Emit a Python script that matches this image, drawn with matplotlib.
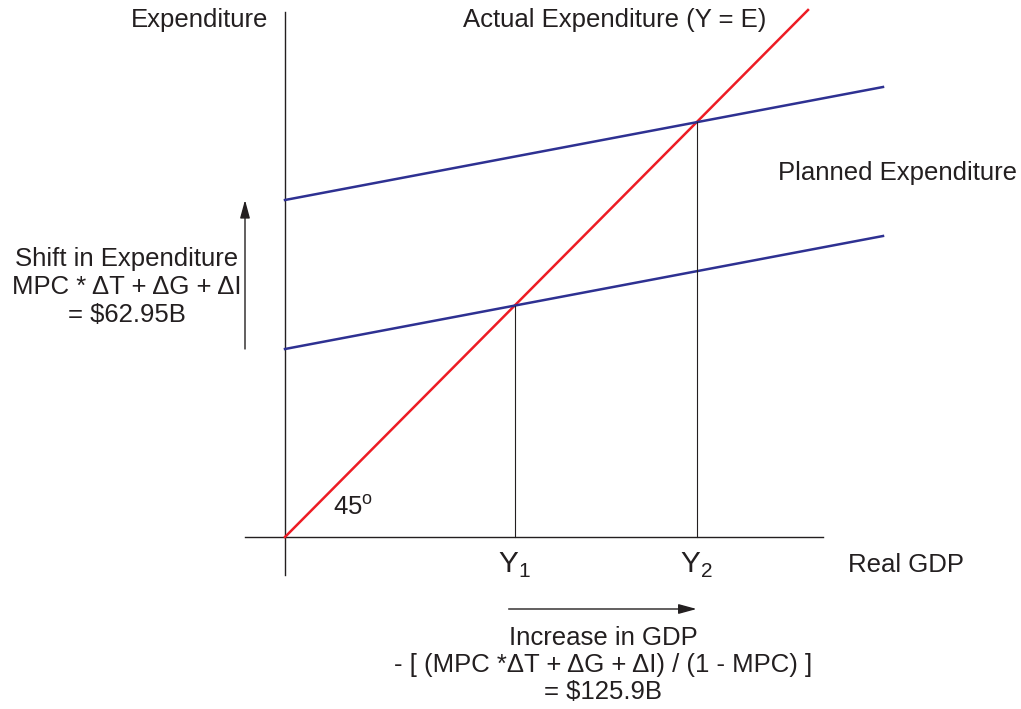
import matplotlib
matplotlib.use("Agg")
import matplotlib.pyplot as plt

plt.rcParams['font.family'] = ['Liberation Sans', 'DejaVu Sans']

# Data (chart units: origin at the axes corner)
actual_x = [0, 523]
actual_y = [0, 527]
planned_x = [0, 598]
planned1_y = [188, 301]
planned2_y = [337, 450]
labels = {"y_axis": "Expenditure", "x_axis": "Real GDP",
          "actual": "Actual Expenditure (Y = E)", "planned": "Planned Expenditure"}
shift_text = ["Shift in Expenditure", "MPC * \u0394T + \u0394G + \u0394I", "= $62.95B"]
increase_text = ["Increase in GDP", "- [ (MPC *\u0394T + \u0394G + \u0394I) / (1 - MPC) ]", "= $125.9B"]

slope_a = (actual_y[1] - actual_y[0]) / (actual_x[1] - actual_x[0])
slope_p = (planned1_y[1] - planned1_y[0]) / (planned_x[1] - planned_x[0])
Y1 = planned1_y[0] / (slope_a - slope_p)
Y2 = planned2_y[0] / (slope_a - slope_p)

fig = plt.figure(figsize=(10.21, 7.09), dpi=100)
ax = fig.add_axes([0, 0, 1, 1])
ax.set_xlim(-285, 1021 - 285)
ax.set_ylim(-(709 - 537), 537)
ax.axis('off')

axc = '#231f20'
ax.plot([0, 0], [-38, 525], color=axc, lw=1.0)
ax.plot([-40, 538], [0, 0], color=axc, lw=1.0)

ax.plot(actual_x, actual_y, color='#ed1c24', lw=1.8)
ax.plot(planned_x, planned1_y, color='#2e3192', lw=1.8)
ax.plot(planned_x, planned2_y, color='#2e3192', lw=1.8)

ax.plot([Y1, Y1], [0, Y1 * slope_a], color=axc, lw=0.8)
ax.plot([Y2, Y2], [0, Y2 * slope_a], color=axc, lw=0.8)

arrow_kw = dict(arrowstyle='-|>,head_length=1.1,head_width=0.3', color='#231f20', lw=1.0,
                shrinkA=0, shrinkB=0)
ax.annotate('', xy=(-40, planned2_y[0]), xytext=(-40, planned1_y[0]), arrowprops=arrow_kw)
ax.annotate('', xy=(Y2, -72), xytext=(Y1 - 6, -72), arrowprops=arrow_kw)

fs = 18.5
tc = '#231f20'
ax.text(-17, 517, labels["y_axis"], ha='right', va='center', fontsize=fs, color=tc)
ax.text(330, 517, labels["actual"], ha='center', va='center', fontsize=fs, color=tc)
ax.text(493, 364, labels["planned"], ha='left', va='center', fontsize=fs, color=tc)
ax.text(563, -28, labels["x_axis"], ha='left', va='center', fontsize=fs, color=tc)
ax.text(-158, 250, "\n".join(shift_text), ha='center', va='center', fontsize=fs, color=tc,
        linespacing=1.22)
ax.text(318, -128, "\n".join(increase_text), ha='center', va='center', fontsize=fs, color=tc,
        linespacing=1.14)
ax.text(48, 30, "45$^{\\mathregular{o}}$", ha='left', va='center', fontsize=fs, color=tc)
ax.text(Y1, -28, "Y$_{\\mathregular{1}}$", ha='center', va='center', fontsize=fs + 3, color=tc)
ax.text(Y2, -28, "Y$_{\\mathregular{2}}$", ha='center', va='center', fontsize=fs + 3, color=tc)

fig.savefig('out.png', dpi=100)
